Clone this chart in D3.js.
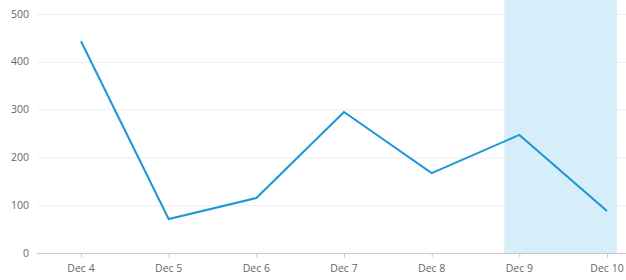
<!DOCTYPE html>
<html><head><meta charset="utf-8">
<script src="https://cdn.jsdelivr.net/npm/d3@7"></script>
<style>body{margin:0;background:#fff}svg{display:block}text{font-family:"Open Sans",sans-serif}</style>
</head><body>
<svg id="c" width="626" height="280"></svg>
<script>
const categories = ["Dec 4","Dec 5","Dec 6","Dec 7","Dec 8","Dec 9","Dec 10"];
const values = [443, 71, 115, 295, 167, 247, 88];
const yTicks = [0,100,200,300,400,500];
const highlight = ["Dec 9","Dec 10"];

const svg = d3.select("#c");
const x = d3.scalePoint().domain(categories).range([81,607]);
const y = d3.scaleLinear().domain([0,500]).range([253,14]);

// highlight band
svg.append("rect")
  .attr("x", x(highlight[0]) - 15)
  .attr("y", 0)
  .attr("width", x(highlight[1]) + 10 - (x(highlight[0]) - 15))
  .attr("height", y(0))
  .attr("fill", "#d5eef9");

// gridlines
svg.append("g").selectAll("line").data(yTicks.filter(d=>d>0)).join("line")
  .attr("x1",37).attr("x2",626)
  .attr("y1",d=>y(d)+0.5).attr("y2",d=>y(d)+0.5)
  .attr("stroke","#eeeeee");

// y labels
svg.append("g").selectAll("text").data(yTicks).join("text")
  .attr("x",29).attr("y",d=>y(d)).attr("dy","0.35em")
  .attr("text-anchor","end").attr("font-size",10.5).attr("fill","#666")
  .text(d=>d);

// x axis
const xa = svg.append("g").attr("transform",`translate(0,${y(0)+0.5})`);
xa.append("line").attr("x1",37).attr("x2",626).attr("stroke","#c8c8c8");
xa.selectAll("line.t").data(categories).join("line").attr("class","t")
  .attr("x1",d=>x(d)+0.5).attr("x2",d=>x(d)+0.5).attr("y1",0).attr("y2",4).attr("stroke","#c8c8c8");
xa.selectAll("text").data(categories).join("text")
  .attr("x",d=>x(d)).attr("y",18).attr("text-anchor","middle")
  .attr("font-size",10.5).attr("fill","#666").text(d=>d);

// line
svg.append("path").datum(values)
  .attr("fill","none").attr("stroke","#1b96d9").attr("stroke-width",2)
  .attr("stroke-linejoin","miter")
  .attr("d", d3.line().x((d,i)=>x(categories[i])).y(d=>y(d)));
</script>
</body></html>
